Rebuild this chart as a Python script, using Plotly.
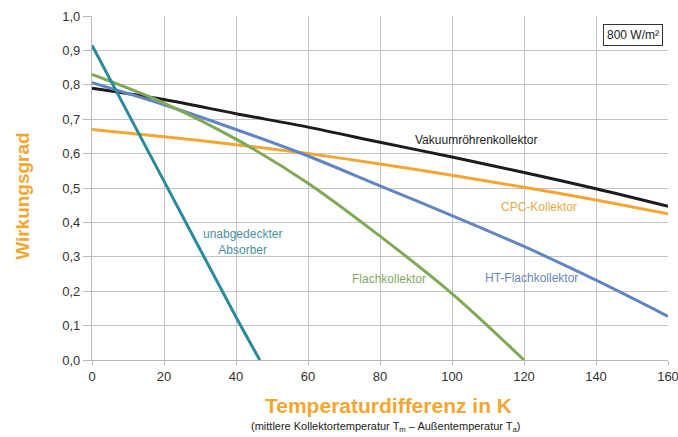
import plotly.graph_objects as go

# Data
x_vakuum = [0, 20, 40, 60, 80, 100, 120, 140, 160]
y_vakuum = [0.790, 0.757, 0.716, 0.677, 0.633, 0.590, 0.545, 0.498, 0.447]

x_cpc = [0, 20, 40, 60, 80, 100, 120, 140, 160]
y_cpc = [0.670, 0.649, 0.626, 0.600, 0.570, 0.537, 0.502, 0.465, 0.425]

x_ht = [0, 20, 40, 60, 80, 100, 120, 140, 160]
y_ht = [0.806, 0.742, 0.670, 0.593, 0.506, 0.420, 0.330, 0.232, 0.127]

x_flach = [0, 20, 40, 60, 80, 100, 120]
y_flach = [0.830, 0.747, 0.642, 0.514, 0.360, 0.193, 0.0]

x_absorber = [0, 20, 40, 46.6]
y_absorber = [0.915, 0.520, 0.125, 0.0]

x_ticks = [0, 20, 40, 60, 80, 100, 120, 140, 160]
y_ticks = [0.0, 0.1, 0.2, 0.3, 0.4, 0.5, 0.6, 0.7, 0.8, 0.9, 1.0]

series = [
    ("Vakuumröhrenkollektor", x_vakuum, y_vakuum, "#1c1c1c"),
    ("CPC-Kollektor", x_cpc, y_cpc, "#f3a733"),
    ("HT-Flachkollektor", x_ht, y_ht, "#6186c2"),
    ("Flachkollektor", x_flach, y_flach, "#7fa957"),
    ("unabgedeckter Absorber", x_absorber, y_absorber, "#2b8b9b"),
]

fig = go.Figure()
for name, xs, ys, col in series:
    fig.add_trace(go.Scatter(x=xs, y=ys, mode="lines", name=name,
                             line=dict(color=col, width=3, shape="spline", smoothing=0.9)))

labels = [
    ("Vakuumröhrenkollektor", 106.7, 0.639, "#222222"),
    ("CPC-Kollektor", 124.2, 0.444, "#e9a845"),
    ("HT-Flachkollektor", 122.1, 0.2375, "#6a86b8"),
    ("Flachkollektor", 82.5, 0.2357, "#86a865"),
    ("unabgedeckter<br>Absorber", 41.7, 0.343, "#4a93a3"),
]
for txt, lx, ly, col in labels:
    fig.add_annotation(x=lx, y=ly, text=txt, showarrow=False,
                       font=dict(family="Liberation Sans, Arial", size=12, color=col),
                       align="center")

fig.add_annotation(xref="paper", yref="paper", x=0.992, y=0.945, xanchor="right", yanchor="middle",
                   text="800 W/m²", showarrow=False,
                   font=dict(family="Liberation Sans, Arial", size=12, color="#222222"),
                   bordercolor="#333333", borderwidth=1, borderpad=3, bgcolor="white")

fig.add_annotation(xref="paper", yref="paper", x=0.514, y=-0.131, yanchor="middle",
                   text="<b>Temperaturdifferenz in K</b>", showarrow=False,
                   font=dict(family="Liberation Sans Narrow, Arial Narrow, Liberation Sans", size=21, color="#f3a733"))
fig.add_annotation(xref="paper", yref="paper", x=0.51, y=-0.195, yanchor="middle",
                   text="(mittlere Kollektortemperatur T<sub>m</sub> – Außentemperatur T<sub>a</sub>)",
                   showarrow=False,
                   font=dict(family="Liberation Sans, Arial", size=11, color="#222222"))
fig.add_annotation(xref="paper", yref="paper", x=-0.121, y=0.478, xanchor="center", yanchor="middle",
                   text="<b>Wirkungsgrad</b>", textangle=-90, showarrow=False,
                   font=dict(family="Liberation Sans Narrow, Arial Narrow, Liberation Sans", size=19, color="#f3a733"))

fig.update_layout(
    width=678, height=437,
    margin=dict(l=92, r=10, t=16, b=77, autoexpand=False),
    paper_bgcolor="white", plot_bgcolor="white",
    showlegend=False,
    separators=",.",
    font=dict(family="Liberation Sans, Arial", size=13, color="#333333"),
)
fig.update_xaxes(range=[0, 160], tickvals=x_ticks, showgrid=True, gridcolor="#c4c4c4", gridwidth=1.3,
                 showline=True, linecolor="#b8b8b8", linewidth=1.3, ticks="outside", ticklen=4,
                 tickcolor="#b8b8b8", zeroline=False, automargin=False, ticklabeloverflow="allow",
                 tickfont=dict(size=13, color="#333333"))
fig.update_yaxes(range=[0, 1.0], tickvals=y_ticks, tickformat=".1f", showgrid=True, gridcolor="#c4c4c4",
                 gridwidth=1.3, showline=True, linecolor="#b8b8b8", linewidth=1.3, ticks="outside",
                 ticklen=8, tickcolor="#b8b8b8", zeroline=False, automargin=False,
                 tickfont=dict(size=13, color="#333333"))

fig.write_html("out.html", config={"displayModeBar": False},
               post_script="document.body.style.margin='0';document.body.style.padding='0';")
